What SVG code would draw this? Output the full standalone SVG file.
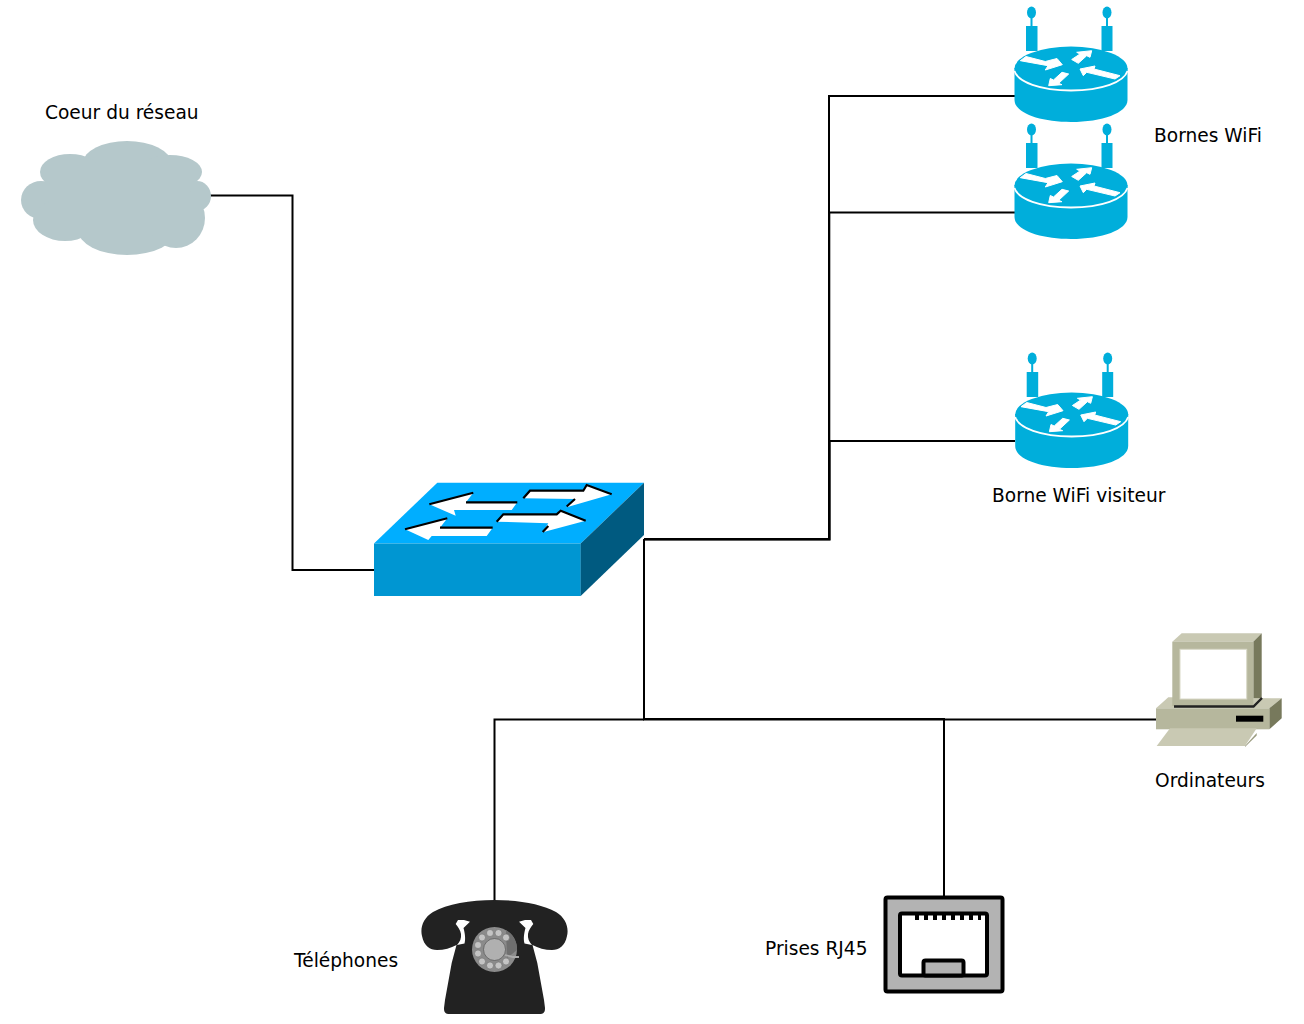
<svg xmlns="http://www.w3.org/2000/svg" width="1304" height="1024" viewBox="0 0 1304 1024">
<style>
.lbl{font-family:"DejaVu Sans",sans-serif;font-size:18.6px;fill:#000}
.wire{fill:none;stroke:#000;stroke-width:2}
.r{fill:#00aedb}
.w{fill:#fff}
.ra{fill:#fff;stroke:#fff;stroke-width:1;stroke-linejoin:round}
.e{fill:none;stroke:#000;stroke-width:2.2}
.cl{fill:#b5c8cb}
.hole{fill:#c4c4c4;stroke:#666;stroke-width:.5}
</style>
<defs>
<g id="router">
<rect class="r" x="1026" y="26" width="11.500" height="25"/>
<rect class="r" x="1101.500" y="26" width="11" height="25"/>
<rect class="r" x="1030.500" y="15" width="2" height="12"/>
<rect class="r" x="1106" y="15" width="2" height="12"/>
<ellipse class="r" cx="1031.500" cy="12.500" rx="4.500" ry="6"/>
<ellipse class="r" cx="1107" cy="12.500" rx="4.500" ry="6"/>
<path class="r" d="M1014.500 68V100C1014.500 113 1040 122 1071 122S1127.500 113 1127.500 100V68Z"/>
<ellipse class="r" cx="1071" cy="68.500" rx="56.500" ry="22"/>
<path d="M1014.500 71C1018 82 1040 90.500 1071 90.500S1124 82 1127.500 71" fill="none" stroke="#fff" stroke-width="1.800"/>
<polygon class="ra" points="1020.300,60.700 1026,56.500 1045.300,61.500 1057,58.500 1062.300,64.700 1045.300,70 1048,65.700"/>
<polygon class="ra" points="1071.700,59.500 1080,54 1076.700,52.300 1091.700,50.700 1090,57.300 1086.700,55.700 1078.300,63.300"/>
<polygon class="ra" points="1048.700,85.700 1050.300,78.500 1053.500,80 1062,72.300 1068.700,74 1058.700,83.300 1062,84.700"/>
<polygon class="ra" points="1080,69 1095,66 1094,69 1120,75.700 1115,79 1086.700,72.300 1083.300,75.700"/>
</g>
<g id="phonekey"><circle class="hole" r="3.500"/></g>
</defs>

<g id="connectors">
<path class="wire" d="M210 195.500H292.500V570H374"/>
<path class="wire" d="M644 539H829V96H1015"/>
<path class="wire" d="M644 539.300H829.300V212.500H1015"/>
<path class="wire" d="M644 539.600H829.600V441H1015"/>
<path class="wire" d="M644 539V719.500H1157"/>
<path class="wire" d="M644 719.500H494.500V900"/>
<path class="wire" d="M644 719H944V897"/>
</g>

<g id="cloud">
<ellipse class="cl" cx="127" cy="163" rx="44" ry="22"/>
<ellipse class="cl" cx="70" cy="172" rx="30" ry="18"/>
<ellipse class="cl" cx="170" cy="172" rx="32" ry="17"/>
<ellipse class="cl" cx="41" cy="200" rx="20" ry="19"/>
<ellipse class="cl" cx="197" cy="196" rx="14" ry="15"/>
<ellipse class="cl" cx="65" cy="220" rx="32" ry="21"/>
<ellipse class="cl" cx="127" cy="230" rx="49" ry="25"/>
<ellipse class="cl" cx="176" cy="218" rx="29" ry="30"/>
<rect class="cl" x="50" y="165" width="140" height="70"/>
<text class="lbl" x="45" y="118.500">Coeur du réseau</text>
</g>

<g id="switch">
<polygon fill="#00aeff" points="437.300,482.700 644,482.700 580.700,543.500 374,543.500"/>
<rect fill="#0096d2" x="374" y="543.500" width="206.800" height="52.500"/>
<polygon fill="#005a80" points="580.700,543.500 644,482.700 644,535 580.700,596"/>
<polygon class="w" points="429.300,504.300 473.300,492.700 466,502.300 517.300,502.300 511.700,510 454,510 455.700,515.700"/>
<polygon class="w" points="523.300,498.300 530,490.700 583.300,490.700 586.700,485 611.700,494.300 566.700,507.300 575,499"/>
<polygon class="w" points="405,529.300 447.300,518.300 440,527.700 492.700,527.700 486.700,536 431.700,536 428.300,540"/>
<polygon class="w" points="496.700,521.700 503.300,514.300 556.700,514.300 560.700,510.700 585.700,520.700 542.700,532.300 548.300,523.300"/>
<path class="e" d="M429.300 504.300L473.300 492.700M466 502.300H517.300"/>
<path class="e" d="M523.300 498.300L530 490.700H583.300L586.700 485L611.700 494.300M566.700 506.500L575 499"/>
<path class="e" d="M405 529.300L447.300 518.300M440 527.700H492.700"/>
<path class="e" d="M496.700 521.700L503.300 514.300H556.700L560.700 510.700L585.700 520.700M542.700 532L548.300 526"/>
</g>

<g id="router1"><use href="#router"/></g>
<g id="router2"><use href="#router" y="117"/></g>
<g id="router3"><use href="#router" x="0.700" y="346"/></g>
<g id="labels-wifi">
<text class="lbl" x="1154" y="141.500">Bornes WiFi</text>
<text class="lbl" x="992" y="501.500">Borne WiFi visiteur</text>
</g>

<g id="computer">
<polygon fill="#c9c9b3" points="1172.300,641.700 1181.700,633.300 1261.700,633.300 1253.300,641.700"/>
<polygon fill="#77795c" points="1253.300,641.700 1261.700,633.300 1261.700,697.300 1253.300,706"/>
<polygon fill="#c9c9b3" points="1156,708.300 1168.300,697.300 1281.700,698.300 1269.300,708.300"/>
<polygon fill="#77795c" points="1269.300,708.300 1281.700,698.300 1281.700,718.300 1269.300,729.300"/>
<rect fill="#b6b79d" x="1156" y="708.300" width="113.300" height="21"/>
<rect fill="#000" x="1236" y="715.700" width="27.300" height="6"/>
<polygon fill="#c9c9b3" points="1156.700,746 1170,728.300 1256.700,728.300 1245,746"/>
<polygon fill="#9a9b7f" points="1245,746 1256.700,733 1256.700,735.500 1245,747"/>
<rect fill="#b6b79d" x="1172.300" y="641.700" width="81" height="64.300"/>
<rect fill="#fff" stroke="#d9d9c8" stroke-width="1" x="1180" y="649.300" width="66.700" height="49.700"/>
<path d="M1174 706.500H1253.500L1262 698" fill="none" stroke="#222" stroke-width="2.400"/>
<text class="lbl" x="1155" y="786.500">Ordinateurs</text>
</g>

<g id="rj45">
<rect x="885.500" y="897.500" width="117" height="94" rx="2" fill="#b3b3b3" stroke="#000" stroke-width="4"/>
<rect x="900" y="913.500" width="87" height="62" rx="2" fill="#fff" stroke="#000" stroke-width="4"/>
<path d="M915 915h4v5h-4zM924 915h4v5h-4zM933 915h4v5h-4zM942 915h4v5h-4zM951 915h4v5h-4zM960 915h4v5h-4zM969 915h4v5h-4zM978 915h3v5h-3z" fill="#000"/>
<rect x="923.500" y="960.500" width="40" height="15" rx="2" fill="#b3b3b3" stroke="#000" stroke-width="4"/>
<text class="lbl" x="765" y="954.500">Prises RJ45</text>
</g>

<g id="phone">
<path fill="#222" d="M494.500 900C470 900 447 904 433 912C423 918 420 928 422 936C424 946 430 950 437 950C444 950 451 948 456.500 945L451.700 963L445 1000L444 1008C444 1012 445 1014 450 1014H539C544 1014 545 1012 545 1008L544 1000L537.300 963L532.500 945C538 948 545 950 552 950C559 950 565 946 567 936C569 928 566 918 556 912C542 904 519 900 494.500 900Z"/>
<path fill="#fff" d="M455.700 924L458 920L464 920L470 921.700L463.500 928C464.500 932 466 938 464.500 943.500L457 945C460 942 461.500 938 461 934C460.500 930 458 927 455.700 924Z"/>
<path fill="#fff" d="M533.300 924L531 920L525 920L519 921.700L525.500 928C524.500 932 523 938 524.500 943.500L532 945C529 942 527.500 938 528 934C528.500 930 531 927 533.300 924Z"/>
<circle cx="494.500" cy="949.500" r="22.500" fill="#8b8b8b"/>
<path d="M506 930A22.500 22.500 0 0 1 517 950L507 958Z" fill="#6f6f6f"/>
<circle cx="494.500" cy="949.500" r="11" fill="#b0b0b0" stroke="#555" stroke-width=".7"/>
<path d="M505 955L513 957H519" fill="none" stroke="#aaa" stroke-width="1.800"/>
<use href="#phonekey" x="482" y="937.500"/>
<use href="#phonekey" x="490" y="933"/>
<use href="#phonekey" x="498.500" y="933"/>
<use href="#phonekey" x="506" y="937.500"/>
<use href="#phonekey" x="478" y="945"/>
<use href="#phonekey" x="478" y="953.500"/>
<use href="#phonekey" x="482" y="961.500"/>
<use href="#phonekey" x="490" y="965.500"/>
<use href="#phonekey" x="498.500" y="965.500"/>
<use href="#phonekey" x="506" y="961.500"/>
<text class="lbl" x="294" y="966.500">Téléphones</text>
</g>
</svg>
